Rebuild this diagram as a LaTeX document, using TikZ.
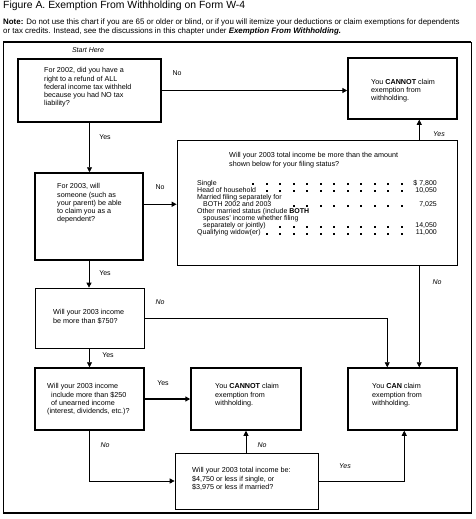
\documentclass[tikz,border=0pt]{standalone}
\usepackage{fontspec}
\setmainfont{Liberation Sans}
\usetikzlibrary{arrows.meta}
\newcommand\dotrow[2]{\foreach \k in {#1,...,11}{\fill ({252.1+13.5*\k},{#2-1.9}) rectangle ++(1.9,1.9);}}
\begin{document}
\begin{tikzpicture}[x=1pt,y=-1pt,
  thickbox/.style={draw, line width=1.5pt, inner sep=0pt},
  thinbox/.style={draw, line width=0.7pt, inner sep=0pt},
  txt/.style={inner sep=0pt, anchor=north west, align=left, font=\fontsize{7.2}{8.2}\selectfont},
  ln/.style={inner sep=0pt, anchor=base west, font=\fontsize{7}{8}\selectfont},
  val/.style={inner sep=0pt, anchor=base east, font=\fontsize{7}{8}\selectfont},
  lab/.style={inner sep=0pt, font=\fontsize{7}{8}\selectfont},
  ilab/.style={inner sep=0pt, font=\fontsize{7}{8}\selectfont\itshape},
  arr/.style={line width=0.7pt, -{Triangle[length=5pt,width=5pt]}},
  tarr/.style={line width=1.5pt, -{Triangle[length=5pt,width=5pt]}},
]
\useasboundingbox (0,0) rectangle (476,519);
% title and note
\node[inner sep=0pt, anchor=base west, font=\fontsize{10.4}{12}\selectfont] (title) at (3,9) {Figure A. Exemption From Withholding on Form W-4};
\node[inner sep=0pt, anchor=base west, font=\fontsize{7.9}{9}\selectfont] (note1) at (3,25) {\textbf{Note:} Do not use this chart if you are 65 or older or blind, or if you will itemize your deductions or claim exemptions for dependents};
\node[inner sep=0pt, anchor=base west, font=\fontsize{7.9}{9}\selectfont] (note2) at (3,34) {or tax credits. Instead, see the discussions in this chapter under \textbf{\textit{Exemption From Withholding.}}};
% frame
\draw[line width=0.8pt] (3,42) rectangle (471,513);
\draw[line width=1.6pt] (3,42) -- (471,42);
\draw[line width=1.6pt] (3,513) -- (471,513);
\node[ilab] (start) at (88,50) {Start Here};
% boxes
\node[thickbox, minimum width=143pt, minimum height=63pt] (b1) at (89.5,90.5) {};
\node[thickbox, minimum width=108pt, minimum height=87pt] (b2) at (89,216.5) {};
\node[thickbox, minimum width=109pt, minimum height=61pt] (c1) at (402.5,88.5) {};
\node[thinbox, minimum width=280pt, minimum height=125pt] (big) at (317,202.5) {};
\node[thinbox, minimum width=109pt, minimum height=60pt] (b3) at (89.5,318) {};
\node[thickbox, minimum width=109pt, minimum height=62pt] (b4) at (89.5,399) {};
\node[thickbox, minimum width=110pt, minimum height=62pt] (c2) at (246,399) {};
\node[thickbox, minimum width=109pt, minimum height=62pt] (can) at (402.5,399) {};
\node[thinbox, minimum width=143pt, minimum height=56pt] (b5) at (246.5,481) {};
% box texts
\node[txt] (t1) at (44,67.5) {For 2002, did you have a\\right to a refund of ALL\\federal income tax withheld\\because you had NO tax\\liability?};
\node[txt] (t2) at (57,183.5) {For 2003, will\\someone (such as\\your parent) be able\\to claim you as a\\dependent?};
\node[txt] (tc1) at (371,79) {You \textbf{CANNOT} claim\\exemption from\\withholding.};
\node[txt] (t3) at (53,309.5) {Will your 2003 income\\be more than \$750?};
\node[txt] (t4) at (47,383.5) {Will your 2003 income\\\hspace*{4pt}include more than \$250\\\hspace*{4pt}of unearned income\\(interest, dividends, etc.)?};
\node[txt] (tc2) at (215,383.5) {You \textbf{CANNOT} claim\\exemption from\\withholding.};
\node[txt] (tcan) at (372,383.5) {You \textbf{CAN} claim\\exemption from\\withholding.};
\node[txt] (t5) at (192,467.5) {Will your 2003 total income be:\\\$4,750 or less if single, or\\\$3,975 or less if married?};
% big box contents
\node[txt] (bigq) at (229,152.5) {Will your 2003 total income be more than the amount\\shown below for your filing status?};
\node[ln] (l1) at (197,185) {Single};
\node[ln] (l2) at (197,192) {Head of household};
\node[ln] (l3) at (197,199) {Married filing separately for};
\node[ln] (l4) at (203,206.5) {BOTH 2002 and 2003};
\node[ln] (l5) at (197,213.5) {Other married status (include \textbf{BOTH}};
\node[ln] (l6) at (203,220.5) {spouses' income whether filing};
\node[ln] (l7) at (203,227.5) {separately or jointly)};
\node[ln] (l8) at (197,234.5) {Qualifying widow(er)};
\node[val] (v1) at (437,185) {\$ 7,800};
\node[val] (v2) at (437,192) {10,050};
\node[val] (v3) at (437,206.5) {7,025};
\node[val] (v4) at (437,227.5) {14,050};
\node[val] (v5) at (437,234.5) {11,000};
\dotrow{0}{185}
\dotrow{1}{192}
\dotrow{3}{206.5}
\dotrow{2}{227.5}
\dotrow{1}{234.5}
% helper coordinates on the CAN box
\coordinate (canA) at ([xshift=40pt]can.north west);
\coordinate (canB) at ([xshift=72pt]can.north west);
\coordinate (canC) at ([xshift=57pt]can.south west);
\coordinate (c1B) at ([xshift=72pt]c1.south west);
% connectors
\draw[tarr] (b1.east) -- (b1.east -| c1.west);
\draw[arr] (b1.south) -- (b1.south |- b2.north);
\draw[tarr] ([shift={(0,32)}]b2.north east) -- ([shift={(0,32)}]b2.north east -| big.west);
\draw[arr] (big.north -| c1B) -- (c1B);
\draw[arr] (b2.south) -- (b2.south |- b3.north);
\draw[arr] (big.south -| canB) -- (canB);
\draw[arr] (b3.east) -| (canA);
\draw[arr] (b3.south) -- (b3.south |- b4.north);
\draw[tarr] (b4.east) -- (c2.west);
\draw[arr] (b4.south) |- (b5.west);
\draw[arr] (b5.north -| c2.south) -- (c2.south);
\draw[arr] (b5.east) -| (canC);
% labels
\node[lab] (n1) at (177,73) {No};
\node[lab] (y1) at (105,137) {Yes};
\node[lab] (n2) at (160,187) {No};
\node[ilab] (y2) at (439,134) {Yes};
\node[lab] (y3) at (105,273) {Yes};
\node[ilab] (n3) at (437,282) {No};
\node[ilab] (n4) at (160,302) {No};
\node[lab] (y4) at (108,355) {Yes};
\node[lab] (y5) at (163,383) {Yes};
\node[ilab] (n5) at (105,445) {No};
\node[ilab] (n6) at (262,445) {No};
\node[ilab] (y6) at (345,466) {Yes};
\end{tikzpicture}
\end{document}
